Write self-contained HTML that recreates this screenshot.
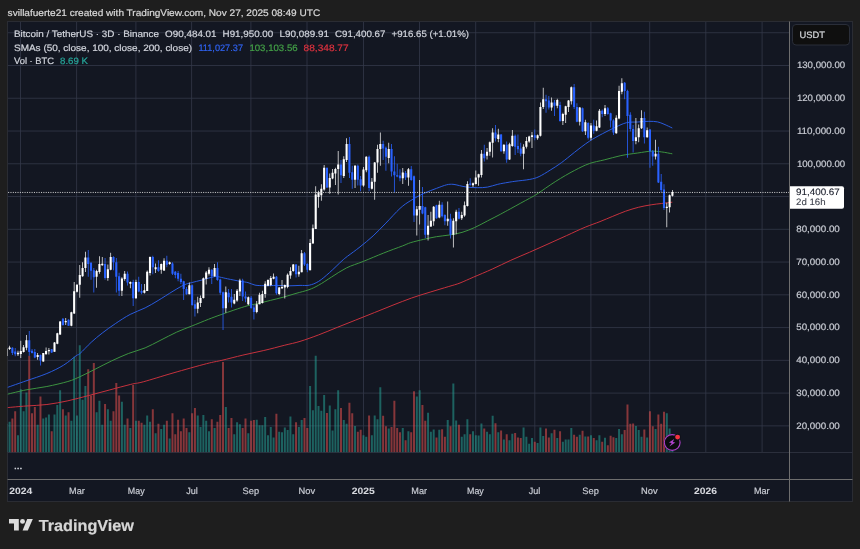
<!DOCTYPE html>
<html><head><meta charset="utf-8"><title>BTCUSDT chart</title><style>html,body{margin:0;padding:0;background:#1e1e1e}body{width:860px;height:549px;overflow:hidden;position:relative}</style></head><body>
<svg width="860" height="549" viewBox="0 0 860 549" style="position:absolute;left:0;top:0;display:block" font-family="Liberation Sans, Arial, sans-serif" text-rendering="geometricPrecision">
<rect width="860" height="549" fill="#1e1e1e"/>
<rect x="7.5" y="21.5" width="845.0" height="480.0" fill="#131722"/>
<clipPath id="cp"><rect x="7.5" y="21.5" width="782.0" height="431.0"/></clipPath>
<path d="M20.50 21.5V452.5 M76.60 21.5V452.5 M135.90 21.5V452.5 M191.60 21.5V452.5 M250.90 21.5V452.5 M307.00 21.5V452.5 M363.50 21.5V452.5 M419.50 21.5V452.5 M475.70 21.5V452.5 M534.80 21.5V452.5 M590.90 21.5V452.5 M649.70 21.5V452.5 M705.80 21.5V452.5 M762.10 21.5V452.5 M7.5 425.86H789.5 M7.5 393.10H789.5 M7.5 360.34H789.5 M7.5 327.58H789.5 M7.5 294.82H789.5 M7.5 262.06H789.5 M7.5 229.30H789.5 M7.5 196.54H789.5 M7.5 163.78H789.5 M7.5 131.02H789.5 M7.5 98.26H789.5 M7.5 65.50H789.5 M7.5 32.74H789.5" stroke="#343849" stroke-width="0.8" fill="none"/>
<rect x="7.5" y="21.5" width="845.0" height="480.0" fill="none" stroke="#2a2c33" stroke-width="1"/>
<path d="M7.5 452.5H852.5" stroke="#2b2f3c" stroke-width="1"/>
<g clip-path="url(#cp)">
<path d="M5.76 423.82h2.0V452.2h-2.0zM8.57 421.73h2.0V452.2h-2.0zM16.99 435.35h2.0V452.2h-2.0zM19.80 389.25h2.0V452.2h-2.0zM22.61 411.25h2.0V452.2h-2.0zM25.42 392.39h2.0V452.2h-2.0zM36.65 424.87h2.0V452.2h-2.0zM42.27 418.58h2.0V452.2h-2.0zM45.08 417.54h2.0V452.2h-2.0zM47.89 414.39h2.0V452.2h-2.0zM53.50 414.39h2.0V452.2h-2.0zM56.31 404.96h2.0V452.2h-2.0zM59.12 390.29h2.0V452.2h-2.0zM64.74 415.44h2.0V452.2h-2.0zM70.36 420.68h2.0V452.2h-2.0zM73.17 356.76h2.0V452.2h-2.0zM75.97 415.44h2.0V452.2h-2.0zM78.78 345.24h2.0V452.2h-2.0zM81.59 399.72h2.0V452.2h-2.0zM84.40 386.10h2.0V452.2h-2.0zM95.63 412.30h2.0V452.2h-2.0zM98.44 400.77h2.0V452.2h-2.0zM101.25 424.87h2.0V452.2h-2.0zM106.87 409.15h2.0V452.2h-2.0zM109.68 420.68h2.0V452.2h-2.0zM120.91 401.82h2.0V452.2h-2.0zM123.72 424.87h2.0V452.2h-2.0zM129.34 428.01h2.0V452.2h-2.0zM134.96 420.68h2.0V452.2h-2.0zM143.38 424.87h2.0V452.2h-2.0zM146.19 415.44h2.0V452.2h-2.0zM149.00 421.73h2.0V452.2h-2.0zM154.62 433.25h2.0V452.2h-2.0zM160.24 429.06h2.0V452.2h-2.0zM163.04 424.87h2.0V452.2h-2.0zM168.66 438.49h2.0V452.2h-2.0zM188.32 432.20h2.0V452.2h-2.0zM196.75 415.44h2.0V452.2h-2.0zM199.56 426.97h2.0V452.2h-2.0zM202.37 415.02h2.0V452.2h-2.0zM205.17 420.68h2.0V452.2h-2.0zM207.98 431.16h2.0V452.2h-2.0zM213.60 428.01h2.0V452.2h-2.0zM224.84 407.06h2.0V452.2h-2.0zM233.26 434.30h2.0V452.2h-2.0zM236.07 422.15h2.0V452.2h-2.0zM238.88 424.24h2.0V452.2h-2.0zM247.30 433.25h2.0V452.2h-2.0zM255.73 419.63h2.0V452.2h-2.0zM258.54 425.29h2.0V452.2h-2.0zM261.35 425.29h2.0V452.2h-2.0zM264.16 417.12h2.0V452.2h-2.0zM266.97 435.35h2.0V452.2h-2.0zM269.77 426.97h2.0V452.2h-2.0zM272.58 437.44h2.0V452.2h-2.0zM278.20 431.79h2.0V452.2h-2.0zM281.01 432.20h2.0V452.2h-2.0zM283.82 427.59h2.0V452.2h-2.0zM286.63 430.11h2.0V452.2h-2.0zM289.44 416.49h2.0V452.2h-2.0zM292.24 434.30h2.0V452.2h-2.0zM297.86 426.97h2.0V452.2h-2.0zM300.67 420.05h2.0V452.2h-2.0zM309.10 386.10h2.0V452.2h-2.0zM311.90 410.20h2.0V452.2h-2.0zM314.71 355.72h2.0V452.2h-2.0zM317.52 406.01h2.0V452.2h-2.0zM320.33 410.83h2.0V452.2h-2.0zM323.14 394.90h2.0V452.2h-2.0zM328.76 405.38h2.0V452.2h-2.0zM331.57 430.53h2.0V452.2h-2.0zM334.37 409.15h2.0V452.2h-2.0zM337.18 390.29h2.0V452.2h-2.0zM342.80 420.05h2.0V452.2h-2.0zM345.61 423.82h2.0V452.2h-2.0zM354.04 425.92h2.0V452.2h-2.0zM362.46 435.35h2.0V452.2h-2.0zM365.27 436.81h2.0V452.2h-2.0zM370.89 435.35h2.0V452.2h-2.0zM373.70 415.44h2.0V452.2h-2.0zM376.50 419.21h2.0V452.2h-2.0zM379.31 387.15h2.0V452.2h-2.0zM387.74 428.43h2.0V452.2h-2.0zM401.78 428.01h2.0V452.2h-2.0zM407.40 431.37h2.0V452.2h-2.0zM415.83 396.58h2.0V452.2h-2.0zM418.64 390.29h2.0V452.2h-2.0zM427.06 412.72h2.0V452.2h-2.0zM429.87 431.79h2.0V452.2h-2.0zM432.68 429.48h2.0V452.2h-2.0zM438.30 429.69h2.0V452.2h-2.0zM446.72 420.05h2.0V452.2h-2.0zM452.34 383.38h2.0V452.2h-2.0zM455.15 420.47h2.0V452.2h-2.0zM460.77 436.81h2.0V452.2h-2.0zM463.57 434.30h2.0V452.2h-2.0zM466.38 419.21h2.0V452.2h-2.0zM472.00 431.37h2.0V452.2h-2.0zM474.81 435.35h2.0V452.2h-2.0zM477.62 435.56h2.0V452.2h-2.0zM480.43 423.40h2.0V452.2h-2.0zM486.04 431.79h2.0V452.2h-2.0zM488.85 434.30h2.0V452.2h-2.0zM491.66 415.86h2.0V452.2h-2.0zM497.28 432.20h2.0V452.2h-2.0zM502.90 439.54h2.0V452.2h-2.0zM508.51 440.17h2.0V452.2h-2.0zM511.32 433.67h2.0V452.2h-2.0zM522.56 427.38h2.0V452.2h-2.0zM525.37 436.81h2.0V452.2h-2.0zM528.17 443.73h2.0V452.2h-2.0zM530.98 438.07h2.0V452.2h-2.0zM536.60 443.10h2.0V452.2h-2.0zM539.41 427.38h2.0V452.2h-2.0zM542.22 435.98h2.0V452.2h-2.0zM550.64 433.25h2.0V452.2h-2.0zM556.26 438.07h2.0V452.2h-2.0zM561.88 441.63h2.0V452.2h-2.0zM564.69 439.54h2.0V452.2h-2.0zM567.50 439.54h2.0V452.2h-2.0zM570.31 428.01h2.0V452.2h-2.0zM578.73 434.72h2.0V452.2h-2.0zM584.35 436.40h2.0V452.2h-2.0zM589.97 435.35h2.0V452.2h-2.0zM595.58 440.17h2.0V452.2h-2.0zM598.39 435.35h2.0V452.2h-2.0zM604.01 437.65h2.0V452.2h-2.0zM615.24 438.07h2.0V452.2h-2.0zM618.05 429.06h2.0V452.2h-2.0zM620.86 434.30h2.0V452.2h-2.0zM634.91 425.92h2.0V452.2h-2.0zM637.71 430.11h2.0V452.2h-2.0zM640.52 436.81h2.0V452.2h-2.0zM646.14 437.44h2.0V452.2h-2.0zM654.57 429.06h2.0V452.2h-2.0zM665.80 413.34h2.0V452.2h-2.0zM668.61 428.43h2.0V452.2h-2.0zM671.42 445.83h2.0V452.2h-2.0z" fill="#26a69a" fill-opacity="0.52"/>
<path d="M11.37 418.58h2.0V452.2h-2.0zM14.18 411.25h2.0V452.2h-2.0zM28.23 355.72h2.0V452.2h-2.0zM31.03 413.34h2.0V452.2h-2.0zM33.84 407.06h2.0V452.2h-2.0zM39.46 396.58h2.0V452.2h-2.0zM50.70 431.16h2.0V452.2h-2.0zM61.93 409.15h2.0V452.2h-2.0zM67.55 412.30h2.0V452.2h-2.0zM87.21 369.34h2.0V452.2h-2.0zM90.02 395.53h2.0V452.2h-2.0zM92.83 363.05h2.0V452.2h-2.0zM104.06 403.91h2.0V452.2h-2.0zM112.49 411.25h2.0V452.2h-2.0zM115.30 382.96h2.0V452.2h-2.0zM118.10 395.53h2.0V452.2h-2.0zM126.53 418.58h2.0V452.2h-2.0zM132.15 385.05h2.0V452.2h-2.0zM137.77 420.68h2.0V452.2h-2.0zM140.57 422.77h2.0V452.2h-2.0zM151.81 409.15h2.0V452.2h-2.0zM157.43 423.82h2.0V452.2h-2.0zM165.85 420.68h2.0V452.2h-2.0zM171.47 413.34h2.0V452.2h-2.0zM174.28 434.30h2.0V452.2h-2.0zM177.09 419.63h2.0V452.2h-2.0zM179.90 431.16h2.0V452.2h-2.0zM182.70 418.58h2.0V452.2h-2.0zM185.51 428.01h2.0V452.2h-2.0zM191.13 413.34h2.0V452.2h-2.0zM193.94 408.11h2.0V452.2h-2.0zM210.79 419.21h2.0V452.2h-2.0zM216.41 421.73h2.0V452.2h-2.0zM219.22 415.02h2.0V452.2h-2.0zM222.03 362.00h2.0V452.2h-2.0zM227.64 428.01h2.0V452.2h-2.0zM230.45 417.95h2.0V452.2h-2.0zM241.69 428.01h2.0V452.2h-2.0zM244.50 418.58h2.0V452.2h-2.0zM250.11 420.68h2.0V452.2h-2.0zM252.92 420.05h2.0V452.2h-2.0zM275.39 413.76h2.0V452.2h-2.0zM295.05 422.36h2.0V452.2h-2.0zM303.48 417.95h2.0V452.2h-2.0zM306.29 428.01h2.0V452.2h-2.0zM325.95 412.93h2.0V452.2h-2.0zM339.99 408.11h2.0V452.2h-2.0zM348.42 402.87h2.0V452.2h-2.0zM351.23 413.34h2.0V452.2h-2.0zM356.84 431.79h2.0V452.2h-2.0zM359.65 429.69h2.0V452.2h-2.0zM368.08 415.44h2.0V452.2h-2.0zM382.12 415.86h2.0V452.2h-2.0zM384.93 426.34h2.0V452.2h-2.0zM390.55 426.97h2.0V452.2h-2.0zM393.36 400.77h2.0V452.2h-2.0zM396.17 428.01h2.0V452.2h-2.0zM398.97 432.20h2.0V452.2h-2.0zM404.59 440.17h2.0V452.2h-2.0zM410.21 432.20h2.0V452.2h-2.0zM413.02 391.34h2.0V452.2h-2.0zM421.44 404.96h2.0V452.2h-2.0zM424.25 420.68h2.0V452.2h-2.0zM435.49 437.44h2.0V452.2h-2.0zM441.11 429.27h2.0V452.2h-2.0zM443.91 436.81h2.0V452.2h-2.0zM449.53 426.34h2.0V452.2h-2.0zM457.96 424.87h2.0V452.2h-2.0zM469.19 434.30h2.0V452.2h-2.0zM483.24 428.43h2.0V452.2h-2.0zM494.47 423.19h2.0V452.2h-2.0zM500.09 430.53h2.0V452.2h-2.0zM505.71 434.30h2.0V452.2h-2.0zM514.13 433.04h2.0V452.2h-2.0zM516.94 437.44h2.0V452.2h-2.0zM519.75 438.07h2.0V452.2h-2.0zM533.79 441.63h2.0V452.2h-2.0zM545.03 428.43h2.0V452.2h-2.0zM547.84 437.44h2.0V452.2h-2.0zM553.45 429.69h2.0V452.2h-2.0zM559.07 431.16h2.0V452.2h-2.0zM573.11 434.72h2.0V452.2h-2.0zM575.92 436.81h2.0V452.2h-2.0zM581.54 430.74h2.0V452.2h-2.0zM587.16 436.40h2.0V452.2h-2.0zM592.77 438.07h2.0V452.2h-2.0zM601.20 441.63h2.0V452.2h-2.0zM606.82 445.20h2.0V452.2h-2.0zM609.63 435.77h2.0V452.2h-2.0zM612.44 437.23h2.0V452.2h-2.0zM623.67 430.11h2.0V452.2h-2.0zM626.48 404.54h2.0V452.2h-2.0zM629.29 423.82h2.0V452.2h-2.0zM632.10 423.40h2.0V452.2h-2.0zM643.33 429.48h2.0V452.2h-2.0zM648.95 411.25h2.0V452.2h-2.0zM651.76 426.34h2.0V452.2h-2.0zM657.37 414.39h2.0V452.2h-2.0zM660.18 423.82h2.0V452.2h-2.0zM662.99 411.67h2.0V452.2h-2.0z" fill="#ef5350" fill-opacity="0.52"/>
<path d="M7.5 407.6C10.6 407.3 19.4 406.5 26.0 406.0C32.6 405.5 39.9 405.4 46.9 404.5C53.9 403.6 60.9 402.3 67.9 400.8C74.9 399.3 81.8 397.3 88.8 395.5C95.8 393.7 102.8 391.8 109.8 389.9C116.8 388.0 125.1 385.8 130.7 384.4C136.3 383.0 136.2 383.7 143.3 381.8C150.4 379.9 162.5 376.0 173.0 373.0C183.5 370.0 198.3 365.8 206.5 363.7C214.7 361.6 215.8 361.7 221.9 360.3C228.0 358.9 235.9 356.7 242.9 355.1C249.9 353.5 256.8 352.1 263.8 350.5C270.8 348.9 278.8 346.7 284.8 345.2C290.8 343.7 294.4 343.1 300.0 341.4C305.6 339.7 312.4 337.2 318.6 334.9C324.8 332.6 331.0 329.9 337.2 327.4C343.4 324.9 349.6 322.5 355.8 320.0C362.0 317.5 368.2 315.1 374.4 312.6C380.6 310.1 386.8 307.5 393.0 305.1C399.2 302.7 405.4 300.2 411.6 298.0C417.8 295.8 424.0 294.0 430.2 292.1C436.4 290.2 443.8 288.0 448.8 286.5C453.8 285.0 455.9 284.6 460.0 283.0C464.1 281.4 468.2 279.4 473.6 277.1C479.0 274.8 486.0 271.9 492.2 269.1C498.4 266.3 504.6 263.1 510.8 260.3C517.0 257.5 523.2 255.0 529.4 252.3C535.6 249.6 541.8 246.8 548.0 244.0C554.2 241.2 560.4 238.4 566.6 235.6C572.8 232.8 579.6 229.5 585.2 227.2C590.8 224.9 595.4 223.4 600.0 221.6C604.6 219.8 608.5 218.0 612.8 216.3C617.1 214.6 621.3 212.7 625.6 211.2C629.9 209.7 634.1 208.4 638.4 207.3C642.7 206.2 647.4 205.4 651.2 204.8C655.0 204.2 657.9 203.9 661.4 203.5C664.9 203.1 670.5 202.4 672.3 202.2" stroke="#d0343f" stroke-width="0.95" fill="none" stroke-linejoin="round"/>
<path d="M7.5 394.2C10.6 393.5 19.4 391.2 26.0 389.9C32.6 388.6 39.9 387.9 46.9 386.5C53.9 385.1 62.4 383.1 67.9 381.5C73.4 379.9 75.5 378.7 80.0 376.7C84.5 374.7 89.6 371.9 94.9 369.3C100.2 366.7 106.0 363.5 111.6 360.9C117.2 358.3 122.8 355.7 128.4 353.5C134.0 351.3 139.8 350.1 145.1 347.9C150.4 345.7 154.7 343.1 160.0 340.5C165.3 337.9 171.4 334.5 176.7 332.1C182.0 329.7 186.3 328.2 191.6 326.1C196.9 324.0 203.5 321.2 208.4 319.3C213.3 317.4 216.8 316.1 221.1 314.6C225.3 313.1 229.4 311.6 233.9 310.1C238.4 308.6 244.1 306.7 248.0 305.6C251.9 304.5 253.9 304.5 257.6 303.6C261.3 302.7 266.1 301.5 270.4 300.4C274.7 299.3 278.9 298.4 283.2 297.2C287.5 296.0 291.7 294.6 296.0 293.4C300.3 292.1 305.2 291.1 309.0 289.7C312.8 288.3 314.8 287.3 318.6 285.2C322.4 283.1 327.0 279.9 331.6 277.0C336.2 274.1 341.2 270.5 346.5 267.9C351.8 265.3 357.1 263.9 363.3 261.4C369.5 258.9 377.2 255.6 383.7 253.0C390.2 250.4 397.8 247.7 402.3 246.0C406.8 244.3 407.2 243.7 410.8 242.6C414.4 241.5 419.3 240.4 423.6 239.4C427.9 238.4 432.1 237.4 436.4 236.7C440.7 236.0 444.9 235.7 449.2 235.0C453.5 234.3 457.8 233.7 462.0 232.4C466.2 231.2 470.4 229.4 474.7 227.5C478.9 225.6 483.2 223.1 487.5 220.9C491.8 218.7 496.4 216.4 500.3 214.3C504.2 212.2 506.0 211.2 510.8 208.6C515.6 205.9 525.0 200.8 529.4 198.4C533.8 196.0 532.8 196.8 537.2 193.9C541.6 191.1 549.6 185.2 555.8 181.3C562.0 177.4 568.8 173.4 574.4 170.5C580.0 167.6 584.3 165.4 589.3 163.6C594.3 161.8 598.9 161.2 604.2 159.9C609.5 158.6 615.3 156.8 620.9 155.6C626.5 154.4 632.7 153.7 637.7 153.0C642.8 152.3 647.2 151.4 651.2 151.2C655.2 151.0 657.9 151.5 661.4 151.9C664.9 152.3 670.5 153.5 672.3 153.8" stroke="#3f9a42" stroke-width="0.95" fill="none" stroke-linejoin="round"/>
<path d="M7.5 387.4C10.6 386.3 19.4 383.2 26.0 380.9C32.6 378.6 40.6 376.1 46.9 373.5C53.2 370.9 58.8 368.1 63.7 365.1C68.6 362.1 73.5 357.6 76.2 355.7C78.9 353.8 77.5 355.7 80.0 353.5C82.5 351.3 87.5 345.7 91.2 342.3C94.9 338.9 98.3 336.1 102.3 333.0C106.3 329.9 110.7 326.8 115.3 323.7C119.9 320.6 125.2 317.0 130.2 314.4C135.2 311.8 140.4 310.2 145.1 307.9C149.8 305.6 153.4 303.3 158.1 300.5C162.8 297.7 168.7 293.8 173.0 291.2C177.3 288.6 181.1 286.3 184.2 284.9C187.3 283.5 188.7 283.4 191.7 282.6C194.7 281.8 198.2 281.0 202.0 280.0C205.8 279.0 211.7 277.1 214.7 276.6C217.7 276.1 217.8 276.7 219.9 277.1C222.0 277.5 224.1 278.1 227.5 278.8C230.9 279.5 236.9 280.7 240.3 281.3C243.7 281.9 245.6 282.0 248.0 282.6C250.4 283.2 252.3 284.6 255.0 285.1C257.7 285.6 260.4 285.6 264.0 285.7C267.6 285.8 272.5 285.4 276.8 285.4C281.1 285.4 285.7 285.8 289.6 285.8C293.5 285.8 296.7 285.5 300.0 285.4C303.3 285.3 306.2 285.9 309.3 285.2C312.4 284.5 315.2 283.5 318.6 281.4C322.0 279.3 325.6 276.0 329.5 272.6C333.4 269.2 339.0 263.5 342.0 260.8C345.0 258.1 344.6 258.5 347.6 256.2C350.6 253.9 355.8 250.3 360.0 246.9C364.2 243.5 368.8 239.9 373.1 235.9C377.4 231.9 381.4 227.7 385.9 223.1C390.4 218.5 395.9 212.2 400.0 208.4C404.1 204.6 406.9 203.0 410.8 200.5C414.7 198.0 419.3 195.5 423.6 193.5C427.9 191.5 432.6 189.8 436.4 188.4C440.2 187.0 443.8 185.5 446.6 184.8C449.4 184.1 450.9 184.2 453.0 184.3C455.1 184.4 457.0 185.1 459.4 185.6C461.8 186.1 464.1 186.8 467.1 187.1C470.1 187.4 473.9 187.7 477.3 187.7C480.7 187.7 484.1 187.7 487.5 187.1C490.9 186.5 494.4 185.1 497.8 184.3C501.2 183.5 505.1 182.9 508.0 182.4C510.9 181.9 511.3 181.8 514.9 181.3C518.5 180.8 525.8 180.2 529.8 179.4C533.8 178.6 535.7 178.2 539.1 176.6C542.5 175.0 546.5 172.4 550.2 170.1C553.9 167.8 557.4 165.6 561.4 162.7C565.4 159.8 569.8 156.0 574.4 152.4C579.0 148.8 584.6 144.4 589.3 141.3C593.9 138.2 598.0 136.1 602.3 133.8C606.6 131.5 611.3 129.2 615.3 127.3C619.3 125.4 622.8 123.6 626.5 122.7C630.2 121.8 634.0 122.2 637.7 122.0C641.4 121.8 645.5 121.3 648.8 121.3C652.1 121.3 655.1 121.4 657.6 121.9C660.1 122.4 661.5 123.2 664.0 124.2C666.5 125.2 670.9 127.4 672.3 128.0" stroke="#2b5fe8" stroke-width="0.95" fill="none" stroke-linejoin="round"/>
<path d="M11.97 347.20h0.8V355.10h-0.8zM14.78 348.10h0.8V356.30h-0.8zM28.83 331.00h0.8V355.70h-0.8zM31.63 349.00h0.8V353.60h-0.8zM34.44 349.00h0.8V358.30h-0.8zM40.06 354.60h0.8V365.60h-0.8zM51.30 349.00h0.8V353.00h-0.8zM62.53 318.07h0.8V325.64h-0.8zM68.15 319.23h0.8V325.87h-0.8zM87.81 249.91h0.8V276.71h-0.8zM90.62 262.14h0.8V279.63h-0.8zM93.43 267.97h0.8V292.45h-0.8zM104.66 258.07h0.8V279.63h-0.8zM113.09 256.32h0.8V270.30h-0.8zM115.90 258.07h0.8V292.45h-0.8zM118.70 272.63h0.8V295.94h-0.8zM127.13 271.47h0.8V285.45h-0.8zM132.75 279.63h0.8V305.97h-0.8zM138.37 276.86h0.8V292.21h-0.8zM141.17 283.90h0.8V294.13h-0.8zM152.41 255.76h0.8V274.30h-0.8zM158.03 260.23h0.8V271.74h-0.8zM166.45 255.76h0.8V267.27h-0.8zM172.07 262.15h0.8V274.94h-0.8zM174.88 271.11h0.8V278.14h-0.8zM177.69 271.11h0.8V281.34h-0.8zM180.50 273.66h0.8V283.90h-0.8zM183.30 280.70h0.8V299.88h-0.8zM186.11 287.09h0.8V294.77h-0.8zM191.73 284.54h0.8V305.64h-0.8zM194.54 299.88h0.8V316.51h-0.8zM211.39 269.19h0.8V283.90h-0.8zM217.01 262.15h0.8V280.70h-0.8zM219.82 278.78h0.8V294.77h-0.8zM222.63 291.57h0.8V329.94h-0.8zM228.24 289.01h0.8V302.44h-0.8zM231.05 289.01h0.8V307.56h-0.8zM242.29 278.66h0.8V301.05h-0.8zM245.10 291.45h0.8V302.33h-0.8zM250.71 295.93h0.8V308.72h-0.8zM253.52 304.88h0.8V319.59h-0.8zM275.99 276.11h0.8V294.65h-0.8zM295.65 263.95h0.8V277.38h-0.8zM304.08 252.00h0.8V265.90h-0.8zM306.89 263.30h0.8V272.30h-0.8zM326.55 167.65h0.8V188.12h-0.8zM340.59 159.98h0.8V183.00h-0.8zM349.02 136.95h0.8V177.88h-0.8zM351.83 165.73h0.8V188.76h-0.8zM357.44 164.45h0.8V185.56h-0.8zM360.25 175.97h0.8V191.32h-0.8zM368.68 155.50h0.8V191.32h-0.8zM382.72 140.79h0.8V159.98h-0.8zM385.53 146.55h0.8V170.85h-0.8zM391.15 143.99h0.8V176.61h-0.8zM393.96 156.14h0.8V192.59h-0.8zM396.77 163.81h0.8V177.25h-0.8zM399.57 169.19h0.8V181.34h-0.8zM405.19 171.11h0.8V180.06h-0.8zM410.81 165.99h0.8V180.70h-0.8zM413.62 175.60h0.8V222.00h-0.8zM422.04 187.10h0.8V214.30h-0.8zM424.85 206.63h0.8V237.97h-0.8zM436.09 204.71h0.8V218.78h-0.8zM441.71 202.15h0.8V217.50h-0.8zM444.51 214.30h0.8V225.18h-0.8zM450.13 213.66h0.8V238.61h-0.8zM458.56 207.91h0.8V219.42h-0.8zM469.79 178.14h0.8V185.81h-0.8zM483.84 144.77h0.8V161.40h-0.8zM495.07 124.94h0.8V141.57h-0.8zM500.69 133.90h0.8V151.80h-0.8zM506.31 141.57h0.8V162.68h-0.8zM514.73 134.54h0.8V155.00h-0.8zM517.54 134.54h0.8V153.08h-0.8zM520.35 142.85h0.8V156.28h-0.8zM534.39 129.42h0.8V140.29h-0.8zM545.63 94.83h0.8V112.73h-0.8zM548.44 96.11h0.8V109.54h-0.8zM554.05 99.94h0.8V115.93h-0.8zM559.67 101.86h0.8V121.69h-0.8zM573.71 83.95h0.8V108.90h-0.8zM576.52 103.14h0.8V122.33h-0.8zM582.14 107.62h0.8V131.92h-0.8zM587.76 122.33h0.8V139.59h-0.8zM593.37 119.77h0.8V133.84h-0.8zM601.80 109.54h0.8V117.21h-0.8zM607.42 106.98h0.8V114.65h-0.8zM610.23 112.73h0.8V127.44h-0.8zM613.04 119.13h0.8V135.12h-0.8zM624.27 82.04h0.8V99.30h-0.8zM627.08 89.70h0.8V157.70h-0.8zM629.89 112.27h0.8V131.45h-0.8zM632.70 125.06h0.8V152.56h-0.8zM643.93 111.63h0.8V143.61h-0.8zM649.55 128.90h0.8V167.70h-0.8zM652.36 150.00h0.8V165.80h-0.8zM657.97 146.80h0.8V183.00h-0.8zM660.78 174.07h0.8V191.98h-0.8zM663.59 184.30h0.8V209.88h-0.8z" fill="#2962ff"/>
<path d="M6.36 348.40h0.8V356.30h-0.8zM9.17 345.80h0.8V349.90h-0.8zM17.59 350.70h0.8V356.00h-0.8zM20.40 340.80h0.8V358.00h-0.8zM23.21 344.90h0.8V352.50h-0.8zM26.02 335.00h0.8V350.20h-0.8zM37.25 353.10h0.8V359.80h-0.8zM42.87 353.10h0.8V361.80h-0.8zM45.68 347.50h0.8V354.50h-0.8zM48.49 348.10h0.8V354.50h-0.8zM54.10 341.96h0.8V351.86h-0.8zM56.91 332.63h0.8V344.29h-0.8zM59.72 320.98h0.8V334.97h-0.8zM65.34 318.07h0.8V325.06h-0.8zM70.96 311.66h0.8V326.22h-0.8zM73.77 282.00h0.8V314.00h-0.8zM76.57 284.29h0.8V292.45h-0.8zM79.38 265.06h0.8V297.69h-0.8zM82.19 262.14h0.8V276.71h-0.8zM85.00 251.66h0.8V272.05h-0.8zM96.23 269.72h0.8V287.79h-0.8zM99.04 256.32h0.8V273.80h-0.8zM101.85 256.90h0.8V265.64h-0.8zM107.47 264.48h0.8V280.79h-0.8zM110.28 252.82h0.8V270.30h-0.8zM121.51 277.30h0.8V295.94h-0.8zM124.32 270.89h0.8V280.79h-0.8zM129.94 281.38h0.8V288.37h-0.8zM135.56 279.63h0.8V298.86h-0.8zM143.98 283.90h0.8V293.49h-0.8zM146.79 270.47h0.8V290.93h-0.8zM149.60 256.40h0.8V275.58h-0.8zM155.22 263.43h0.8V273.02h-0.8zM160.84 263.43h0.8V273.66h-0.8zM163.64 258.31h0.8V271.11h-0.8zM169.26 261.51h0.8V264.71h-0.8zM188.92 282.62h0.8V294.13h-0.8zM197.35 296.69h0.8V313.32h-0.8zM200.16 295.41h0.8V306.92h-0.8zM202.97 277.50h0.8V298.61h-0.8zM205.77 271.11h0.8V284.54h-0.8zM208.58 267.27h0.8V275.58h-0.8zM214.20 264.07h0.8V276.86h-0.8zM225.44 286.45h0.8V312.68h-0.8zM233.86 294.01h0.8V304.25h-0.8zM236.67 288.90h0.8V301.69h-0.8zM239.48 278.66h0.8V295.93h-0.8zM247.90 296.57h0.8V304.88h-0.8zM256.33 301.05h0.8V313.20h-0.8zM259.14 292.73h0.8V304.25h-0.8zM261.95 290.81h0.8V303.61h-0.8zM264.76 281.22h0.8V297.85h-0.8zM267.57 279.30h0.8V286.34h-0.8zM270.37 276.11h0.8V286.34h-0.8zM273.18 273.55h0.8V279.30h-0.8zM278.80 286.98h0.8V295.29h-0.8zM281.61 279.94h0.8V288.90h-0.8zM284.42 284.42h0.8V298.49h-0.8zM287.23 273.55h0.8V288.26h-0.8zM290.04 267.15h0.8V278.66h-0.8zM292.84 263.95h0.8V271.63h-0.8zM298.46 265.87h0.8V276.74h-0.8zM301.27 250.00h0.8V272.30h-0.8zM309.70 239.10h0.8V270.30h-0.8zM312.50 224.40h0.8V243.60h-0.8zM315.31 186.20h0.8V229.00h-0.8zM318.12 190.70h0.8V207.80h-0.8zM320.93 184.30h0.8V200.80h-0.8zM323.74 165.09h0.8V190.68h-0.8zM329.36 173.41h0.8V193.87h-0.8zM332.17 168.93h0.8V179.16h-0.8zM334.97 167.65h0.8V184.92h-0.8zM337.78 151.02h0.8V194.51h-0.8zM343.40 156.14h0.8V177.88h-0.8zM346.21 138.23h0.8V161.90h-0.8zM354.64 165.09h0.8V188.12h-0.8zM363.06 167.01h0.8V186.84h-0.8zM365.87 156.14h0.8V172.13h-0.8zM371.49 177.88h0.8V189.40h-0.8zM374.30 161.90h0.8V199.63h-0.8zM377.10 144.63h0.8V172.77h-0.8zM379.91 132.48h0.8V165.73h-0.8zM388.34 142.71h0.8V163.18h-0.8zM402.38 167.91h0.8V183.90h-0.8zM408.00 167.91h0.8V185.81h-0.8zM416.43 206.00h0.8V235.40h-0.8zM419.24 180.10h0.8V224.50h-0.8zM427.66 214.94h0.8V240.52h-0.8zM430.47 211.74h0.8V227.09h-0.8zM433.28 205.99h0.8V225.81h-0.8zM438.90 200.87h0.8V218.14h-0.8zM447.32 201.51h0.8V225.81h-0.8zM452.94 218.14h0.8V247.56h-0.8zM455.75 209.83h0.8V234.13h-0.8zM461.37 211.74h0.8V220.06h-0.8zM464.17 201.51h0.8V216.86h-0.8zM466.98 181.30h0.8V206.60h-0.8zM472.60 182.62h0.8V187.09h-0.8zM475.41 170.47h0.8V184.54h-0.8zM478.22 173.66h0.8V185.81h-0.8zM481.03 149.90h0.8V177.50h-0.8zM486.64 147.97h0.8V159.48h-0.8zM489.45 141.57h0.8V155.64h-0.8zM492.26 128.14h0.8V157.56h-0.8zM497.88 128.78h0.8V142.21h-0.8zM503.50 144.13h0.8V153.72h-0.8zM509.11 142.85h0.8V160.12h-0.8zM511.92 130.06h0.8V146.69h-0.8zM523.16 144.13h0.8V169.20h-0.8zM525.97 137.09h0.8V148.61h-0.8zM528.77 135.81h0.8V142.85h-0.8zM531.58 131.98h0.8V147.97h-0.8zM537.20 134.54h0.8V139.65h-0.8zM540.01 102.50h0.8V136.40h-0.8zM542.82 87.79h0.8V108.90h-0.8zM551.24 97.38h0.8V110.81h-0.8zM556.86 98.66h0.8V108.26h-0.8zM562.48 112.73h0.8V124.88h-0.8zM565.29 105.70h0.8V122.97h-0.8zM568.10 99.94h0.8V112.09h-0.8zM570.91 86.51h0.8V104.42h-0.8zM579.33 106.98h0.8V125.52h-0.8zM584.95 119.77h0.8V135.12h-0.8zM590.57 122.97h0.8V140.23h-0.8zM596.18 120.41h0.8V131.28h-0.8zM598.99 108.90h0.8V128.08h-0.8zM604.61 105.06h0.8V115.93h-0.8zM615.84 115.29h0.8V133.84h-0.8zM618.65 85.87h0.8V119.13h-0.8zM621.46 78.20h0.8V94.19h-0.8zM635.51 118.02h0.8V144.25h-0.8zM638.31 124.42h0.8V142.33h-0.8zM641.12 110.35h0.8V128.90h-0.8zM646.74 127.62h0.8V137.85h-0.8zM655.17 139.80h0.8V159.60h-0.8zM666.40 202.85h0.8V227.15h-0.8zM669.21 194.54h0.8V212.44h-0.8zM672.02 190.06h0.8V196.45h-0.8z" fill="#e8e8e8"/>
<path d="M11.32 347.80h2.1V353.10h-2.1zM14.13 351.60h2.1V354.20h-2.1zM28.18 340.20h2.1V351.90h-2.1zM30.98 350.80h2.1V353.10h-2.1zM33.79 351.90h2.1V357.40h-2.1zM39.41 355.10h2.1V360.60h-2.1zM50.65 349.30h2.1V352.50h-2.1zM61.88 318.65h2.1V325.06h-2.1zM67.50 319.81h2.1V325.64h-2.1zM87.16 257.48h2.1V263.89h-2.1zM89.97 262.84h2.1V270.65h-2.1zM92.78 270.30h2.1V277.30h-2.1zM104.01 263.89h2.1V277.88h-2.1zM112.44 256.90h2.1V262.14h-2.1zM115.25 262.14h2.1V276.71h-2.1zM118.05 276.13h2.1V290.70h-2.1zM126.48 273.80h2.1V282.54h-2.1zM132.10 281.96h2.1V298.28h-2.1zM137.72 281.98h2.1V291.57h-2.1zM140.52 290.93h2.1V292.85h-2.1zM151.76 257.04h2.1V267.27h-2.1zM157.38 267.27h2.1V271.11h-2.1zM165.80 260.87h2.1V264.71h-2.1zM171.42 263.43h2.1V273.66h-2.1zM174.23 271.74h2.1V274.94h-2.1zM177.04 273.02h2.1V278.78h-2.1zM179.85 278.78h2.1V281.98h-2.1zM182.65 281.34h2.1V289.01h-2.1zM185.46 289.01h2.1V294.13h-2.1zM191.08 285.18h2.1V305.00h-2.1zM193.89 304.36h2.1V308.84h-2.1zM210.74 269.83h2.1V276.22h-2.1zM216.36 267.91h2.1V280.06h-2.1zM219.17 279.42h2.1V292.85h-2.1zM221.98 292.21h2.1V308.20h-2.1zM227.59 292.85h2.1V297.33h-2.1zM230.40 296.69h2.1V302.44h-2.1zM241.64 280.58h2.1V296.57h-2.1zM244.45 296.57h2.1V298.49h-2.1zM250.06 297.85h2.1V308.08h-2.1zM252.87 307.44h2.1V311.92h-2.1zM275.34 276.74h2.1V293.37h-2.1zM295.00 264.59h2.1V274.19h-2.1zM303.43 253.20h2.1V264.60h-2.1zM306.24 264.00h2.1V269.70h-2.1zM325.90 167.65h2.1V187.48h-2.1zM339.94 164.45h2.1V175.33h-2.1zM348.37 143.99h2.1V172.77h-2.1zM351.18 172.13h2.1V179.80h-2.1zM356.79 165.73h2.1V179.80h-2.1zM359.60 179.16h2.1V185.56h-2.1zM368.03 156.78h2.1V188.12h-2.1zM382.07 143.99h2.1V148.47h-2.1zM384.88 147.83h2.1V156.78h-2.1zM390.50 149.11h2.1V171.49h-2.1zM393.31 171.49h2.1V175.33h-2.1zM396.12 175.33h2.1V176.61h-2.1zM398.92 175.58h2.1V178.14h-2.1zM404.54 173.02h2.1V177.50h-2.1zM410.16 169.19h2.1V180.06h-2.1zM412.97 176.20h2.1V215.60h-2.1zM421.39 206.00h2.1V213.50h-2.1zM424.20 207.27h2.1V234.77h-2.1zM435.44 205.35h2.1V218.14h-2.1zM441.06 204.71h2.1V216.22h-2.1zM443.86 214.94h2.1V221.34h-2.1zM449.48 218.78h2.1V234.77h-2.1zM457.91 211.74h2.1V218.78h-2.1zM469.14 183.51h2.1V184.79h-2.1zM483.19 153.72h2.1V158.20h-2.1zM494.42 132.62h2.1V138.37h-2.1zM500.04 134.54h2.1V151.16h-2.1zM505.66 144.77h2.1V159.48h-2.1zM514.08 135.81h2.1V146.69h-2.1zM516.89 146.05h2.1V149.25h-2.1zM519.70 148.61h2.1V153.72h-2.1zM533.74 135.18h2.1V137.73h-2.1zM544.98 99.30h2.1V101.22h-2.1zM547.79 100.58h2.1V107.62h-2.1zM553.40 102.50h2.1V105.70h-2.1zM559.02 105.06h2.1V121.05h-2.1zM573.06 87.15h2.1V106.98h-2.1zM575.87 106.98h2.1V121.69h-2.1zM581.49 108.26h2.1V131.28h-2.1zM587.11 122.97h2.1V137.68h-2.1zM592.72 125.52h2.1V130.64h-2.1zM601.15 110.81h2.1V114.01h-2.1zM606.77 108.26h2.1V114.01h-2.1zM609.58 113.37h2.1V120.41h-2.1zM612.39 120.41h2.1V132.56h-2.1zM623.62 82.67h2.1V90.99h-2.1zM626.43 91.00h2.1V116.00h-2.1zM629.24 114.83h2.1V128.90h-2.1zM632.05 128.90h2.1V141.05h-2.1zM643.28 118.02h2.1V137.21h-2.1zM648.90 129.50h2.1V151.30h-2.1zM651.71 151.30h2.1V156.40h-2.1zM657.32 153.80h2.1V182.40h-2.1zM660.13 181.74h2.1V190.06h-2.1zM662.94 189.42h2.1V207.97h-2.1z" fill="#2962ff"/>
<path d="M5.71 348.60h2.1V356.00h-2.1zM8.52 347.50h2.1V349.00h-2.1zM16.94 352.80h2.1V354.20h-2.1zM19.75 351.00h2.1V353.90h-2.1zM22.56 347.20h2.1V351.90h-2.1zM25.37 340.20h2.1V347.80h-2.1zM36.60 355.10h2.1V356.90h-2.1zM42.22 353.10h2.1V361.50h-2.1zM45.03 351.00h2.1V354.20h-2.1zM47.84 349.90h2.1V351.30h-2.1zM53.45 342.54h2.1V351.86h-2.1zM56.26 333.22h2.1V343.71h-2.1zM59.07 321.56h2.1V334.38h-2.1zM64.69 320.98h2.1V322.14h-2.1zM70.31 312.24h2.1V325.64h-2.1zM73.12 291.30h2.1V313.40h-2.1zM75.92 284.87h2.1V291.86h-2.1zM78.73 274.97h2.1V284.87h-2.1zM81.54 267.97h2.1V276.13h-2.1zM84.35 257.48h2.1V267.97h-2.1zM95.58 270.89h2.1V276.71h-2.1zM98.39 263.89h2.1V272.05h-2.1zM101.20 263.66h2.1V265.17h-2.1zM106.82 269.14h2.1V277.88h-2.1zM109.63 256.90h2.1V269.72h-2.1zM120.86 278.46h2.1V290.70h-2.1zM123.67 273.80h2.1V279.04h-2.1zM129.29 281.96h2.1V283.71h-2.1zM134.91 281.96h2.1V298.28h-2.1zM143.33 290.29h2.1V292.85h-2.1zM146.14 271.74h2.1V290.93h-2.1zM148.95 257.04h2.1V273.02h-2.1zM154.57 267.27h2.1V269.19h-2.1zM160.19 264.07h2.1V269.83h-2.1zM162.99 260.87h2.1V270.47h-2.1zM168.61 262.15h2.1V264.07h-2.1zM188.27 285.18h2.1V294.13h-2.1zM196.70 302.44h2.1V308.84h-2.1zM199.51 297.97h2.1V303.08h-2.1zM202.32 278.14h2.1V297.97h-2.1zM205.12 272.38h2.1V278.78h-2.1zM207.93 269.83h2.1V273.66h-2.1zM213.55 267.91h2.1V276.22h-2.1zM224.79 292.21h2.1V308.20h-2.1zM233.21 299.77h2.1V303.61h-2.1zM236.02 290.81h2.1V300.41h-2.1zM238.83 280.58h2.1V291.45h-2.1zM247.25 297.21h2.1V304.25h-2.1zM255.68 304.25h2.1V311.92h-2.1zM258.49 294.65h2.1V304.25h-2.1zM261.30 294.01h2.1V302.97h-2.1zM264.11 283.78h2.1V294.01h-2.1zM266.92 279.94h2.1V285.70h-2.1zM269.72 278.02h2.1V285.06h-2.1zM272.53 276.74h2.1V278.66h-2.1zM278.15 287.62h2.1V294.01h-2.1zM280.96 286.98h2.1V288.26h-2.1zM283.77 285.06h2.1V287.62h-2.1zM286.58 274.83h2.1V286.98h-2.1zM289.39 270.99h2.1V275.47h-2.1zM292.19 264.59h2.1V270.99h-2.1zM297.81 271.63h2.1V274.19h-2.1zM300.62 253.20h2.1V272.30h-2.1zM309.05 243.00h2.1V270.30h-2.1zM311.85 228.30h2.1V243.60h-2.1zM314.66 194.50h2.1V229.00h-2.1zM317.47 192.00h2.1V197.00h-2.1zM320.28 188.80h2.1V195.20h-2.1zM323.09 167.65h2.1V189.40h-2.1zM328.71 177.88h2.1V187.48h-2.1zM331.52 172.77h2.1V178.52h-2.1zM334.32 168.93h2.1V173.41h-2.1zM337.13 164.45h2.1V168.93h-2.1zM342.75 159.34h2.1V175.97h-2.1zM345.56 143.99h2.1V159.98h-2.1zM353.99 165.73h2.1V179.80h-2.1zM362.41 169.57h2.1V185.56h-2.1zM365.22 156.78h2.1V170.21h-2.1zM370.84 181.72h2.1V188.76h-2.1zM373.65 162.54h2.1V181.72h-2.1zM376.45 149.11h2.1V162.54h-2.1zM379.26 143.99h2.1V149.11h-2.1zM387.69 149.11h2.1V158.06h-2.1zM401.73 172.38h2.1V178.14h-2.1zM407.35 169.19h2.1V177.50h-2.1zM415.78 209.20h2.1V215.60h-2.1zM418.59 206.00h2.1V209.80h-2.1zM427.01 225.81h2.1V234.77h-2.1zM429.82 220.70h2.1V226.45h-2.1zM432.63 206.63h2.1V221.34h-2.1zM438.25 204.71h2.1V217.50h-2.1zM446.67 218.78h2.1V221.34h-2.1zM452.29 220.70h2.1V234.77h-2.1zM455.10 211.74h2.1V221.34h-2.1zM460.72 214.94h2.1V218.14h-2.1zM463.52 205.35h2.1V215.58h-2.1zM466.33 183.90h2.1V206.00h-2.1zM471.95 183.26h2.1V185.18h-2.1zM474.76 177.50h2.1V183.90h-2.1zM477.57 174.30h2.1V177.50h-2.1zM480.38 153.70h2.1V174.90h-2.1zM485.99 151.80h2.1V155.64h-2.1zM488.80 142.21h2.1V151.80h-2.1zM491.61 132.62h2.1V142.85h-2.1zM497.23 134.54h2.1V139.01h-2.1zM502.85 144.77h2.1V151.16h-2.1zM508.46 144.13h2.1V159.48h-2.1zM511.27 135.81h2.1V146.05h-2.1zM522.51 146.69h2.1V153.72h-2.1zM525.32 140.93h2.1V146.69h-2.1zM528.12 136.45h2.1V141.57h-2.1zM530.93 135.18h2.1V137.09h-2.1zM536.55 135.18h2.1V138.37h-2.1zM539.36 106.98h2.1V135.76h-2.1zM542.17 99.30h2.1V106.98h-2.1zM550.59 102.50h2.1V107.62h-2.1zM556.21 99.94h2.1V105.70h-2.1zM561.83 114.01h2.1V121.05h-2.1zM564.64 106.34h2.1V114.65h-2.1zM567.45 100.58h2.1V106.98h-2.1zM570.26 87.15h2.1V101.22h-2.1zM578.68 107.62h2.1V121.69h-2.1zM584.30 122.33h2.1V131.28h-2.1zM589.92 125.52h2.1V137.68h-2.1zM595.53 126.16h2.1V130.64h-2.1zM598.34 110.81h2.1V127.44h-2.1zM603.96 108.26h2.1V114.01h-2.1zM615.19 117.85h2.1V133.20h-2.1zM618.00 90.99h2.1V118.49h-2.1zM620.81 83.31h2.1V91.63h-2.1zM634.86 137.21h2.1V141.05h-2.1zM637.66 128.26h2.1V137.21h-2.1zM640.47 118.02h2.1V128.26h-2.1zM646.09 130.18h2.1V137.21h-2.1zM654.52 153.80h2.1V156.40h-2.1zM665.75 206.69h2.1V207.97h-2.1zM668.56 195.18h2.1V207.33h-2.1zM671.37 191.98h2.1V195.81h-2.1z" fill="#ffffff"/>
</g>
<path d="M8.1 192.45H789.5" stroke="#cfcfcf" stroke-width="1" stroke-dasharray="1.05 1.3" fill="none"/>
<path d="M789.5 21.5V501.5" stroke="#6e6e6e" stroke-width="1"/>
<path d="M7.5 479.5H852.5" stroke="#6e6e6e" stroke-width="1"/>
<text x="7.6" y="15.8" font-size="9.5" fill="#d8d8d8" textLength="312.6" lengthAdjust="spacingAndGlyphs" stroke="#d8d8d8" stroke-width="0.2">svillafuerte21 created with TradingView.com, Nov 27, 2025 08:49 UTC</text>
<text x="14" y="36.9" font-size="9.3" fill="#d1d4dc" textLength="145" lengthAdjust="spacingAndGlyphs" stroke="#d1d4dc" stroke-width="0.2">Bitcoin / TetherUS · 3D · Binance</text>
<text x="165" y="36.9" font-size="9.3" fill="#d1d4dc" textLength="51.6" lengthAdjust="spacingAndGlyphs" stroke="#d1d4dc" stroke-width="0.2">O90,484.01</text>
<text x="222.6" y="36.9" font-size="9.3" fill="#d1d4dc" textLength="50.6" lengthAdjust="spacingAndGlyphs" stroke="#d1d4dc" stroke-width="0.2">H91,950.00</text>
<text x="279.6" y="36.9" font-size="9.3" fill="#d1d4dc" textLength="49.4" lengthAdjust="spacingAndGlyphs" stroke="#d1d4dc" stroke-width="0.2">L90,089.91</text>
<text x="335" y="36.9" font-size="9.3" fill="#d1d4dc" textLength="50.4" lengthAdjust="spacingAndGlyphs" stroke="#d1d4dc" stroke-width="0.2">C91,400.67</text>
<text x="391.6" y="36.9" font-size="9.3" fill="#d1d4dc" textLength="77.4" lengthAdjust="spacingAndGlyphs" stroke="#d1d4dc" stroke-width="0.2">+916.65 (+1.01%)</text>
<text x="14" y="50.6" font-size="9.3" fill="#d1d4dc" textLength="178" lengthAdjust="spacingAndGlyphs" stroke="#d1d4dc" stroke-width="0.2">SMAs (50, close, 100, close, 200, close)</text>
<text x="198.4" y="50.6" font-size="9.3" fill="#2f62f0" textLength="44.6" lengthAdjust="spacingAndGlyphs" stroke="#2f62f0" stroke-width="0.2">111,027.37</text>
<text x="249.4" y="50.6" font-size="9.3" fill="#43a047" textLength="48.2" lengthAdjust="spacingAndGlyphs" stroke="#43a047" stroke-width="0.2">103,103.56</text>
<text x="303.6" y="50.6" font-size="9.3" fill="#e0323f" textLength="45" lengthAdjust="spacingAndGlyphs" stroke="#e0323f" stroke-width="0.2">88,348.77</text>
<text x="14" y="63.7" font-size="9.3" fill="#d1d4dc" textLength="40" lengthAdjust="spacingAndGlyphs" stroke="#d1d4dc" stroke-width="0.2">Vol · BTC</text>
<text x="60" y="63.7" font-size="9.3" fill="#26a69a" textLength="28" lengthAdjust="spacingAndGlyphs" stroke="#26a69a" stroke-width="0.2">8.69 K</text>
<rect x="792.5" y="24.5" width="57" height="20.5" rx="3.5" fill="#0f0f0f" stroke="#2a2e39" stroke-width="1"/>
<text x="799.5" y="38.2" font-size="9.3" fill="#d8dade" textLength="25.5" lengthAdjust="spacingAndGlyphs" stroke="#d8dade" stroke-width="0.2">USDT</text>
<text x="796.2" y="428.60999999999996" font-size="9.2" fill="#c8cbd3" textLength="43.6" lengthAdjust="spacingAndGlyphs" stroke="#c8cbd3" stroke-width="0.2">20,000.00</text>
<text x="796.2" y="395.84999999999997" font-size="9.2" fill="#c8cbd3" textLength="43.6" lengthAdjust="spacingAndGlyphs" stroke="#c8cbd3" stroke-width="0.2">30,000.00</text>
<text x="796.2" y="363.09" font-size="9.2" fill="#c8cbd3" textLength="43.6" lengthAdjust="spacingAndGlyphs" stroke="#c8cbd3" stroke-width="0.2">40,000.00</text>
<text x="796.2" y="330.33" font-size="9.2" fill="#c8cbd3" textLength="43.6" lengthAdjust="spacingAndGlyphs" stroke="#c8cbd3" stroke-width="0.2">50,000.00</text>
<text x="796.2" y="297.57" font-size="9.2" fill="#c8cbd3" textLength="43.6" lengthAdjust="spacingAndGlyphs" stroke="#c8cbd3" stroke-width="0.2">60,000.00</text>
<text x="796.2" y="264.81" font-size="9.2" fill="#c8cbd3" textLength="43.6" lengthAdjust="spacingAndGlyphs" stroke="#c8cbd3" stroke-width="0.2">70,000.00</text>
<text x="796.2" y="232.04999999999998" font-size="9.2" fill="#c8cbd3" textLength="43.6" lengthAdjust="spacingAndGlyphs" stroke="#c8cbd3" stroke-width="0.2">80,000.00</text>
<text x="796.2" y="199.29" font-size="9.2" fill="#c8cbd3" textLength="43.6" lengthAdjust="spacingAndGlyphs" stroke="#c8cbd3" stroke-width="0.2">90,000.00</text>
<text x="796.9" y="166.53" font-size="9.2" fill="#c8cbd3" textLength="48.3" lengthAdjust="spacingAndGlyphs" stroke="#c8cbd3" stroke-width="0.2">100,000.00</text>
<text x="796.9" y="133.76999999999998" font-size="9.2" fill="#c8cbd3" textLength="48.3" lengthAdjust="spacingAndGlyphs" stroke="#c8cbd3" stroke-width="0.2">110,000.00</text>
<text x="796.9" y="101.00999999999999" font-size="9.2" fill="#c8cbd3" textLength="48.3" lengthAdjust="spacingAndGlyphs" stroke="#c8cbd3" stroke-width="0.2">120,000.00</text>
<text x="796.9" y="68.25" font-size="9.2" fill="#c8cbd3" textLength="48.3" lengthAdjust="spacingAndGlyphs" stroke="#c8cbd3" stroke-width="0.2">130,000.00</text>
<path d="M790 186.2h52a2 2 0 0 1 2 2v18.5a2 2 0 0 1 -2 2h-52z" fill="#ffffff"/>
<text x="796" y="195.1" font-size="9.2" fill="#1a1e2b" textLength="43.8" lengthAdjust="spacingAndGlyphs" stroke="#1a1e2b" stroke-width="0.12">91,400.67</text>
<text x="796" y="205.2" font-size="9.2" fill="#3f434e" textLength="29.6" lengthAdjust="spacingAndGlyphs" stroke="#3f434e" stroke-width="0.1">2d 16h</text>
<text x="20.85" y="493.8" font-size="9.2" fill="#d6d8de" textLength="23.0" lengthAdjust="spacingAndGlyphs" font-weight="bold" text-anchor="middle" stroke="#d6d8de" stroke-width="0.05">2024</text>
<text x="76.94999999999999" y="493.8" font-size="9.2" fill="#c8cbd3" textLength="15.7" lengthAdjust="spacingAndGlyphs" text-anchor="middle" stroke="#c8cbd3" stroke-width="0.2">Mar</text>
<text x="136.25" y="493.8" font-size="9.2" fill="#c8cbd3" textLength="16.8" lengthAdjust="spacingAndGlyphs" text-anchor="middle" stroke="#c8cbd3" stroke-width="0.2">May</text>
<text x="191.95" y="493.8" font-size="9.2" fill="#c8cbd3" textLength="11.6" lengthAdjust="spacingAndGlyphs" text-anchor="middle" stroke="#c8cbd3" stroke-width="0.2">Jul</text>
<text x="250.8" y="493.8" font-size="9.2" fill="#c8cbd3" textLength="16.6" lengthAdjust="spacingAndGlyphs" text-anchor="middle" stroke="#c8cbd3" stroke-width="0.2">Sep</text>
<text x="306.9" y="493.8" font-size="9.2" fill="#c8cbd3" textLength="16.6" lengthAdjust="spacingAndGlyphs" text-anchor="middle" stroke="#c8cbd3" stroke-width="0.2">Nov</text>
<text x="363.2" y="493.8" font-size="9.2" fill="#d6d8de" textLength="23.0" lengthAdjust="spacingAndGlyphs" font-weight="bold" text-anchor="middle" stroke="#d6d8de" stroke-width="0.05">2025</text>
<text x="419.2" y="493.8" font-size="9.2" fill="#c8cbd3" textLength="15.7" lengthAdjust="spacingAndGlyphs" text-anchor="middle" stroke="#c8cbd3" stroke-width="0.2">Mar</text>
<text x="475.4" y="493.8" font-size="9.2" fill="#c8cbd3" textLength="16.8" lengthAdjust="spacingAndGlyphs" text-anchor="middle" stroke="#c8cbd3" stroke-width="0.2">May</text>
<text x="534.5" y="493.8" font-size="9.2" fill="#c8cbd3" textLength="11.6" lengthAdjust="spacingAndGlyphs" text-anchor="middle" stroke="#c8cbd3" stroke-width="0.2">Jul</text>
<text x="590.6" y="493.8" font-size="9.2" fill="#c8cbd3" textLength="16.6" lengthAdjust="spacingAndGlyphs" text-anchor="middle" stroke="#c8cbd3" stroke-width="0.2">Sep</text>
<text x="649.4000000000001" y="493.8" font-size="9.2" fill="#c8cbd3" textLength="16.6" lengthAdjust="spacingAndGlyphs" text-anchor="middle" stroke="#c8cbd3" stroke-width="0.2">Nov</text>
<text x="705.5" y="493.8" font-size="9.2" fill="#d6d8de" textLength="23.0" lengthAdjust="spacingAndGlyphs" font-weight="bold" text-anchor="middle" stroke="#d6d8de" stroke-width="0.05">2026</text>
<text x="761.8000000000001" y="493.8" font-size="9.2" fill="#c8cbd3" textLength="15.7" lengthAdjust="spacingAndGlyphs" text-anchor="middle" stroke="#c8cbd3" stroke-width="0.2">Mar</text>
<text x="14.0" y="469.0" font-size="9.5" fill="#d1d4dc" textLength="8.3" lengthAdjust="spacingAndGlyphs" stroke="#d1d4dc" stroke-width="0.45">...</text>
<circle cx="672.2" cy="442.5" r="8.6" fill="#10121a"/>
<circle cx="672.2" cy="442.5" r="7.9" fill="#0b0c10" stroke="#ab40c9" stroke-width="1.15"/>
<path d="M674.2 438.9L668.9 442.6L671.7 443.1L669.3 446.6L675.3 442.4L672.8 441.9Z" fill="#b044cf"/>
<circle cx="677.6" cy="437.1" r="3.3" fill="#10121a"/>
<circle cx="677.6" cy="437.1" r="2.45" fill="#f5323f"/>
<g fill="#dcdcdc"><path d="M9 519H18.8V530.6H14V523.6H9Z"/><circle cx="22.5" cy="521.4" r="2.45"/><path d="M27.2 519H32.8L27.8 530.6H22.6Z"/></g>
<text x="38.7" y="531" font-size="16" fill="#d6d6d6" textLength="95.3" lengthAdjust="spacingAndGlyphs" font-weight="bold" stroke="#d6d6d6" stroke-width="0.2">TradingView</text>
</svg>
</body></html>
